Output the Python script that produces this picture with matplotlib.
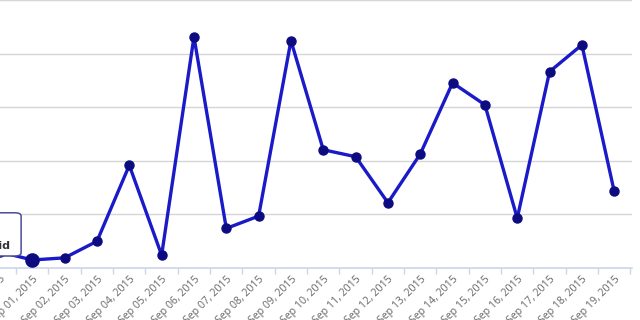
import matplotlib.pyplot as plt
from matplotlib.patches import FancyBboxPatch

dates = ['Aug 31, 2015', 'Sep 01, 2015', 'Sep 02, 2015', 'Sep 03, 2015', 'Sep 04, 2015',
         'Sep 05, 2015', 'Sep 06, 2015', 'Sep 07, 2015', 'Sep 08, 2015', 'Sep 09, 2015',
         'Sep 10, 2015', 'Sep 11, 2015', 'Sep 12, 2015', 'Sep 13, 2015', 'Sep 14, 2015',
         'Sep 15, 2015', 'Sep 16, 2015', 'Sep 17, 2015', 'Sep 18, 2015', 'Sep 19, 2015']
values = [3.0, 1.5, 1.9, 5.0, 19.2, 2.4, 43.2, 7.4, 9.7, 42.5,
          22.1, 20.8, 12.2, 21.3, 34.6, 30.5, 9.3, 36.7, 41.7, 14.3]
hover_index = 1
tooltip_text = 'Paid'

fig = plt.figure(figsize=(6.4, 3.2), dpi=100)
ax = fig.add_axes([0, 0.1625, 0.9875, 0.836])

x = list(range(len(dates)))
ax.plot(x, values, color='#1a1ac8', linewidth=2.4, zorder=3)
ax.plot(x, values, linestyle='none', marker='o', markersize=6.5,
        markerfacecolor='#0c0c80', markeredgecolor='#0c0c80', zorder=4)
ax.plot([hover_index], [values[hover_index]], linestyle='none', marker='o', markersize=9.5,
        markerfacecolor='#0c0c80', markeredgecolor='#0c0c80', zorder=5)

ax.set_xlim(0.004, 19.55)
ax.set_ylim(0, 50)
ax.set_yticks([0, 10, 20, 30, 40, 50])
ax.yaxis.grid(True, color='#d6d6d6', linewidth=1)
ax.set_axisbelow(True)
ax.tick_params(axis='y', left=False, labelleft=False)

ax.set_xticks(x)
ax.set_xticklabels(dates, rotation=45, ha='right', va='top', rotation_mode='anchor',
                   fontsize=7.6, color='#666666', family='Open Sans')
ax.set_xticks([i + 0.5 for i in x], minor=True)
ax.tick_params(axis='x', which='major', length=0, pad=4)
ax.tick_params(axis='x', which='minor', length=4, color='#ccd6eb', width=1)

for s in ['top', 'left', 'right']:
    ax.spines[s].set_visible(False)
ax.spines['bottom'].set_color('#ccd6eb')
ax.spines['bottom'].set_linewidth(1.2)

# tooltip box partly off the left edge
box = FancyBboxPatch((-0.12, 0.2), 0.153, 0.135, boxstyle='round,pad=0,rounding_size=0.01',
                     transform=fig.transFigure, facecolor='white', edgecolor='#4a4a9a',
                     linewidth=1.1, zorder=10)
fig.patches.append(box)
fig.text(0.0155, 0.232, tooltip_text, ha='right', va='center', fontsize=8,
         fontweight='bold', color='#333333', zorder=11)

fig.savefig('out.png', dpi=100)
